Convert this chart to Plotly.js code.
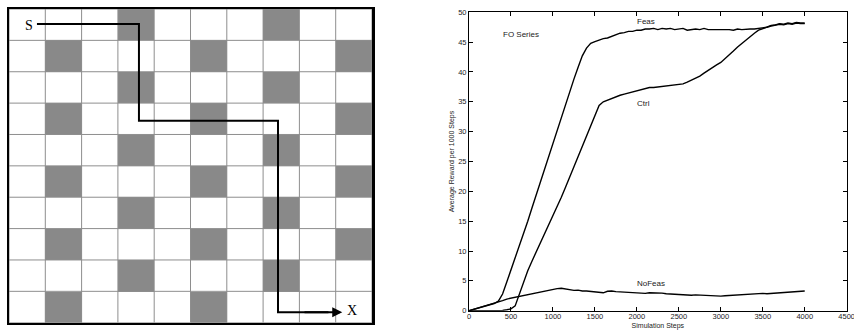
<!DOCTYPE html>
<html>
<head>
<meta charset="utf-8">
<script src="https://cdn.plot.ly/plotly-3.0.1.min.js"></script>
<style>
html,body{margin:0;padding:0;background:#fff;}
#chart{width:854px;height:330px;}
</style>
</head>
<body>
<div id="chart"></div>
<script>
// ---------- Left panel: grid world ----------
const gridCells = [
  [0,0,0,1,0,0,0,1,0,0],
  [0,1,0,0,0,1,0,0,0,1],
  [0,0,0,1,0,0,0,1,0,0],
  [0,1,0,0,0,1,0,0,0,1],
  [0,0,0,1,0,0,0,1,0,0],
  [0,1,0,0,0,1,0,0,0,1],
  [0,0,0,1,0,0,0,1,0,0],
  [0,1,0,0,0,1,0,0,0,1],
  [0,0,0,1,0,0,0,1,0,0],
  [0,1,0,0,0,1,0,0,0,0]
];
// path in cell units (column, row)
const pathCol = [0.27, 3.08, 3.08, 6.91, 6.91, 8.3];
const pathRow = [-0.02, -0.02, 3.06, 3.06, 9.17, 9.17];
const startLabel = "S";
const goalLabel = "X";

// ---------- Right panel: learning curves ----------
const steps = [0,50,100,150,200,250,300,350,400,450,500,550,600,650,700,750,800,850,900,950,
  1000,1050,1100,1150,1200,1250,1300,1350,1400,1450,1500,1550,1600,1650,1700,1750,1800,1850,1900,1950,
  2000,2050,2100,2150,2200,2250,2300,2350,2400,2450,2500,2550,2600,2650,2700,2750,2800,2850,2900,2950,
  3000,3050,3100,3150,3200,3250,3300,3350,3400,3450,3500,3550,3600,3650,3700,3750,3800,3850,3900,3950,4000];

const feas = [0,0.2,0.4,0.6,0.8,1.0,1.2,1.6,2.8,4.8,6.8,8.9,11.0,13.0,15.0,17.2,19.4,21.6,23.8,25.9,
  28.0,30.2,32.4,34.6,36.7,38.8,40.8,42.7,44.0,44.8,45.1,45.4,45.6,45.7,46.0,46.2,46.5,46.6,46.8,46.8,
  47.0,47.0,47.2,47.2,47.3,47.1,47.3,47.2,47.3,47.1,47.2,47.3,47.0,47.1,47.2,47.1,47.3,47.1,47.1,47.2,
  47.1,47.2,47.1,47.0,47.2,47.1,47.2,47.2,47.2,47.3,47.3,47.5,47.7,47.8,48.0,47.9,48.1,48.0,48.2,48.1,48.1];

const ctrl = [0,0,0,0,0,0,0,0.02,0.05,0.15,0.3,0.8,2.7,4.9,6.7,8.3,9.8,11.4,12.9,14.4,
  15.9,17.4,19.0,20.7,22.4,24.1,25.8,27.5,29.3,31.1,32.9,34.4,35.0,35.3,35.6,35.9,36.1,36.3,36.5,36.7,
  36.8,37.0,37.2,37.4,37.4,37.5,37.6,37.6,37.7,37.8,37.9,38.0,38.3,38.6,38.9,39.3,39.8,40.3,40.8,41.2,
  41.6,42.2,42.9,43.5,44.2,44.8,45.4,46.0,46.5,47.0,47.3,47.6,47.8,47.9,48.1,48.0,48.2,48.1,48.3,48.2,48.2];

const noFeas = [0,0.2,0.4,0.6,0.8,1.0,1.2,1.45,1.7,1.95,2.1,2.25,2.35,2.5,2.6,2.75,2.9,3.1,3.2,3.4,
  3.6,3.7,3.75,3.6,3.5,3.4,3.45,3.3,3.3,3.2,3.15,3.1,3.0,3.25,3.3,3.2,3.15,3.1,3.15,3.1,
  3.0,2.95,2.9,3.0,3.0,3.05,2.95,2.85,2.8,2.75,2.7,2.75,2.65,2.6,2.65,2.6,2.6,2.55,2.5,2.5,
  2.45,2.5,2.55,2.6,2.65,2.7,2.7,2.75,2.8,2.85,2.9,2.85,2.9,2.95,2.95,3.0,3.05,3.1,3.15,3.2,3.3];

const seriesNames = ["Feas", "Ctrl", "NoFeas"];
const chartLabel = "FO Series";
const xTitle = "Simulation Steps";
const yTitle = "Average Reward per 1000 Steps";

// ---------- build grid lines from grid size ----------
const nRows = gridCells.length, nCols = gridCells[0].length;
const glx = [], gly = [];
for (let c = 0; c <= nCols; c++) { glx.push(c - 0.5, c - 0.5, null); gly.push(-0.5, nRows - 0.5, null); }
for (let r = 0; r <= nRows; r++) { glx.push(-0.5, nCols - 0.5, null); gly.push(r - 0.5, r - 0.5, null); }

const lineStyle = {color: '#000', width: 1.4};
const traces = [
  {type: 'heatmap', z: gridCells, xaxis: 'x2', yaxis: 'y2', zmin: 0, zmax: 1,
   colorscale: [[0, '#ffffff'], [1, '#898989']], showscale: false, hoverinfo: 'skip'},
  {type: 'scatter', mode: 'lines', x: glx, y: gly, xaxis: 'x2', yaxis: 'y2',
   line: {color: '#8e8e8e', width: 1}, hoverinfo: 'skip', showlegend: false},
  {type: 'scatter', mode: 'lines', x: pathCol, y: pathRow, xaxis: 'x2', yaxis: 'y2',
   line: {color: '#000', width: 2}, hoverinfo: 'skip', showlegend: false},
  {type: 'scatter', mode: 'lines', name: seriesNames[0], x: steps, y: feas, line: lineStyle, showlegend: false},
  {type: 'scatter', mode: 'lines', name: seriesNames[1], x: steps, y: ctrl, line: lineStyle, showlegend: false},
  {type: 'scatter', mode: 'lines', name: seriesNames[2], x: steps, y: noFeas, line: lineStyle, showlegend: false}
];

const tickFont = {family: 'Liberation Sans, Arial, sans-serif', size: 7.5, color: '#222'};
const annFont = {family: 'Liberation Sans, Arial, sans-serif', size: 8, color: '#222'};
const serifFont = {family: 'Liberation Serif, Times New Roman, serif', size: 14, color: '#000'};
const titleFont = {family: 'Liberation Sans, Arial, sans-serif', size: 7, color: '#222'};

const layout = {
  width: 854, height: 330,
  margin: {l: 0, r: 0, t: 0, b: 0},
  paper_bgcolor: '#fff', plot_bgcolor: '#fff',
  showlegend: false,
  xaxis: {
    domain: [469/854, 846.7/854], range: [0, 4500], dtick: 500, tick0: 0,
    ticks: 'inside', ticklen: 4, tickcolor: '#000', showline: true, linecolor: '#000', linewidth: 1,
    mirror: 'ticks', showgrid: false, zeroline: false, tickfont: tickFont, ticklabelstandoff: -2,
    ticklabeloverflow: 'allow',
    title: {text: xTitle, font: titleFont, standoff: 4}
  },
  yaxis: {
    domain: [1 - 310.7/330, 1 - 12.3/330], range: [0, 50], dtick: 5, tick0: 0,
    ticks: 'inside', ticklen: 4, tickcolor: '#000', showline: true, linecolor: '#000', linewidth: 1,
    mirror: 'ticks', showgrid: false, zeroline: false, tickfont: tickFont, ticklabeloverflow: 'allow',
    title: {text: yTitle, font: titleFont, standoff: 2}
  },
  xaxis2: {
    domain: [9/854, 372/854], range: [-0.5, nCols - 0.5], anchor: 'y2',
    showticklabels: false, ticks: '', showgrid: false, zeroline: false,
    showline: true, mirror: true, linecolor: '#000', linewidth: 2.5
  },
  yaxis2: {
    domain: [1 - 322.7/330, 1 - 9/330], range: [nRows - 0.5, -0.5], anchor: 'x2',
    showticklabels: false, ticks: '', showgrid: false, zeroline: false,
    showline: true, mirror: true, linecolor: '#000', linewidth: 2.5
  },
  annotations: [
    {xref: 'x2', yref: 'y2', x: 0.06, y: 0.03, text: startLabel, showarrow: false, font: serifFont},
    {xref: 'x2', yref: 'y2', x: 8.95, y: 9.12, text: goalLabel, showarrow: false, font: serifFont},
    {xref: 'x2', yref: 'y2', axref: 'x2', ayref: 'y2', x: 8.68, y: 9.17, ax: 7.6, ay: 9.17,
     text: '', showarrow: true, arrowhead: 2, arrowsize: 1, arrowwidth: 2, arrowcolor: '#000'},
    {xref: 'x', yref: 'y', x: 620, y: 46.2, text: chartLabel, showarrow: false, font: annFont},
    {xref: 'x', yref: 'y', x: 2105, y: 48.5, text: seriesNames[0], showarrow: false, font: annFont},
    {xref: 'x', yref: 'y', x: 2077, y: 34.75, text: seriesNames[1], showarrow: false, font: annFont},
    {xref: 'x', yref: 'y', x: 2168, y: 4.6, text: seriesNames[2], showarrow: false, font: annFont}
  ]
};

Plotly.newPlot('chart', traces, layout, {staticPlot: true, displayModeBar: false});
</script>
</body>
</html>
